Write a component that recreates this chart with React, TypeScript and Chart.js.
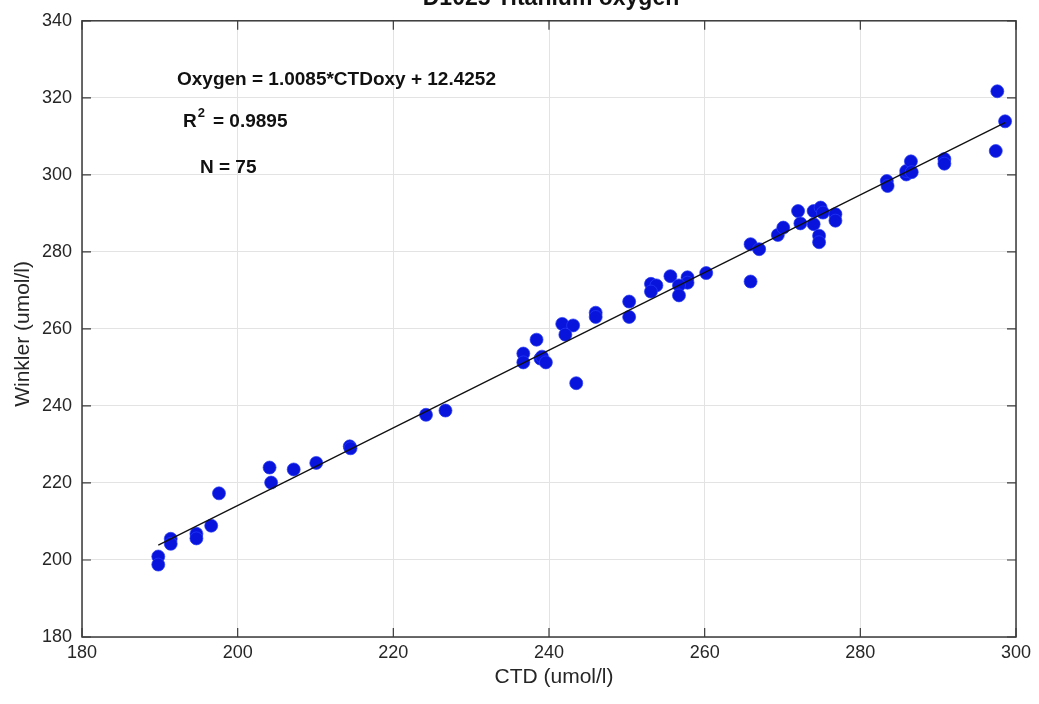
import React, { useEffect, useRef } from "react";
import { Chart, registerables } from "chart.js";

Chart.register(...registerables);

const chartTitle = "D1025 Titanium oxygen";
const xAxisTitle = "CTD (umol/l)";
const yAxisTitle = "Winkler (umol/l)";
const equationText = "Oxygen = 1.0085*CTDoxy + 12.4252";
const r2Value = "0.9895";
const nText = "N = 75";

const xTicks = [180, 200, 220, 240, 260, 280, 300];
const yTicks = [180, 200, 220, 240, 260, 280, 300, 320, 340];

const slope = 1.0085;
const intercept = 12.4252;
const fitRange = [189.8, 298.6];

const ctdValues = [
  189.8, 189.8, 191.4, 191.4, 194.7, 194.7, 196.6, 197.6, 204.1, 204.3,
  207.2, 210.1, 214.4, 214.5, 224.2, 226.7, 236.7, 236.7, 238.4, 238.9,
  239.1, 239.6, 241.7, 243.1, 242.1, 243.5, 246.0, 246.0, 250.3, 250.3,
  253.1, 253.8, 253.1, 255.6, 257.8, 257.8, 256.7, 256.7, 260.2, 265.9,
  265.9, 267.0, 269.4, 270.1, 272.0, 272.3, 274.0, 274.9, 275.2, 274.0,
  274.7, 274.7, 276.8, 276.8, 283.4, 283.5, 285.9, 285.9, 286.5, 286.6,
  290.8, 290.8, 297.6, 297.4, 298.6,
];
const winklerValues = [
  200.9, 198.8, 205.5, 204.2, 206.8, 205.6, 208.9, 217.3, 224.0, 220.1,
  223.5, 225.2, 229.5, 229.0, 237.7, 238.8, 253.6, 251.3, 257.2, 252.3,
  252.8, 251.3, 261.3, 260.9, 258.5, 245.9, 264.2, 263.1, 267.1, 263.1,
  271.7, 271.3, 269.7, 273.7, 273.4, 272.0, 271.3, 268.7, 274.5, 272.3,
  282.0, 280.7, 284.4, 286.3, 290.6, 287.4, 290.6, 291.5, 290.2, 287.2,
  284.2, 282.5, 289.8, 288.1, 298.4, 297.1, 300.1, 301.0, 303.5, 300.7,
  304.1, 302.9, 321.7, 306.2, 313.9,
];

const FONT = "'Liberation Sans', Arial, Helvetica, sans-serif";

export default function App() {
  const canvasRef = useRef<HTMLCanvasElement | null>(null);

  useEffect(() => {
    const canvas = canvasRef.current;
    if (!canvas) return;

    const scatterData = ctdValues.map((x, i) => ({ x, y: winklerValues[i] }));
    const fitData = fitRange.map((x) => ({ x, y: slope * x + intercept }));

    const decorPlugin = {
      id: "decor",
      afterDraw(chart: any) {
        const ctx = chart.ctx;
        const area = chart.chartArea;
        const xs = chart.scales.x;
        const ys = chart.scales.y;
        ctx.save();
        // box
        ctx.strokeStyle = "#3a3a3a";
        ctx.lineWidth = 1.5;
        ctx.strokeRect(area.left, area.top, area.right - area.left, area.bottom - area.top);
        // inward ticks
        const tl = 9;
        ctx.lineWidth = 1.2;
        ctx.beginPath();
        xTicks.forEach((v) => {
          const px = xs.getPixelForValue(v);
          ctx.moveTo(px, area.bottom);
          ctx.lineTo(px, area.bottom - tl);
          ctx.moveTo(px, area.top);
          ctx.lineTo(px, area.top + tl);
        });
        yTicks.forEach((v) => {
          const py = ys.getPixelForValue(v);
          ctx.moveTo(area.left, py);
          ctx.lineTo(area.left + tl, py);
          ctx.moveTo(area.right, py);
          ctx.lineTo(area.right - tl, py);
        });
        ctx.stroke();

        // title (clipped at the top)
        ctx.fillStyle = "#111";
        ctx.font = `bold 23px ${FONT}`;
        ctx.textAlign = "center";
        ctx.textBaseline = "alphabetic";
        ctx.fillText(chartTitle, (area.left + area.right) / 2 + 2, 5);

        // axis titles
        ctx.fillStyle = "#262626";
        ctx.font = `21px ${FONT}`;
        ctx.fillText(xAxisTitle, (area.left + area.right) / 2 + 5, 683);
        ctx.save();
        ctx.translate(29, (area.top + area.bottom) / 2 + 5);
        ctx.rotate(-Math.PI / 2);
        ctx.fillText(yAxisTitle, 0, 0);
        ctx.restore();

        // annotations
        ctx.fillStyle = "#111";
        ctx.textAlign = "left";
        ctx.font = `bold 19px ${FONT}`;
        ctx.fillText(equationText, 177, 85);
        ctx.fillText("R", 183, 127);
        const rw = ctx.measureText("R").width;
        ctx.font = `bold 13px ${FONT}`;
        ctx.fillText("2", 183 + rw + 1, 117);
        ctx.font = `bold 19px ${FONT}`;
        ctx.fillText("= " + r2Value, 213, 127);
        ctx.fillText(nText, 200, 173);
        ctx.restore();
      },
    };

    const chart = new Chart(canvas, {
      type: "scatter",
      data: {
        datasets: [
          {
            type: "line",
            label: "fit",
            data: fitData,
            borderColor: "#111",
            borderWidth: 1.3,
            pointRadius: 0,
            fill: false,
            tension: 0,
          } as any,
          {
            label: "samples",
            data: scatterData,
            backgroundColor: "#0814dc",
            borderColor: "rgba(40,60,250,0.7)",
            borderWidth: 1,
            pointRadius: 6.5,
          },
        ],
      },
      options: {
        responsive: false,
        animation: false,
        layout: { padding: { left: 0, top: 18, right: 23, bottom: 0 } },
        plugins: {
          legend: { display: false },
          tooltip: { enabled: false },
          title: { display: false },
        },
        scales: {
          x: {
            type: "linear",
            min: 180,
            max: 300,
            afterFit: (s: any) => {
              s.height = 67;
            },
            afterBuildTicks: (s: any) => {
              s.ticks = xTicks.map((v) => ({ value: v }));
            },
            grid: { color: "#e3e3e3", lineWidth: 1, drawTicks: false },
            border: { display: false },
            ticks: {
              padding: 5,
              color: "#262626",
              font: { family: FONT, size: 18 },
            },
          },
          y: {
            type: "linear",
            min: 180,
            max: 340,
            afterFit: (s: any) => {
              s.width = 82;
            },
            afterBuildTicks: (s: any) => {
              s.ticks = yTicks.map((v) => ({ value: v }));
            },
            grid: { color: "#e3e3e3", lineWidth: 1, drawTicks: false },
            border: { display: false },
            ticks: {
              padding: 10,
              color: "#262626",
              font: { family: FONT, size: 18 },
            },
          },
        },
      },
      plugins: [decorPlugin],
    });

    return () => chart.destroy();
  }, []);

  return (
    <div style={{ position: "absolute", left: 0, top: 0, width: 1039, height: 704, background: "#fff" }}>
      <canvas ref={canvasRef} width={1039} height={704} style={{ display: "block" }} />
    </div>
  );
}
